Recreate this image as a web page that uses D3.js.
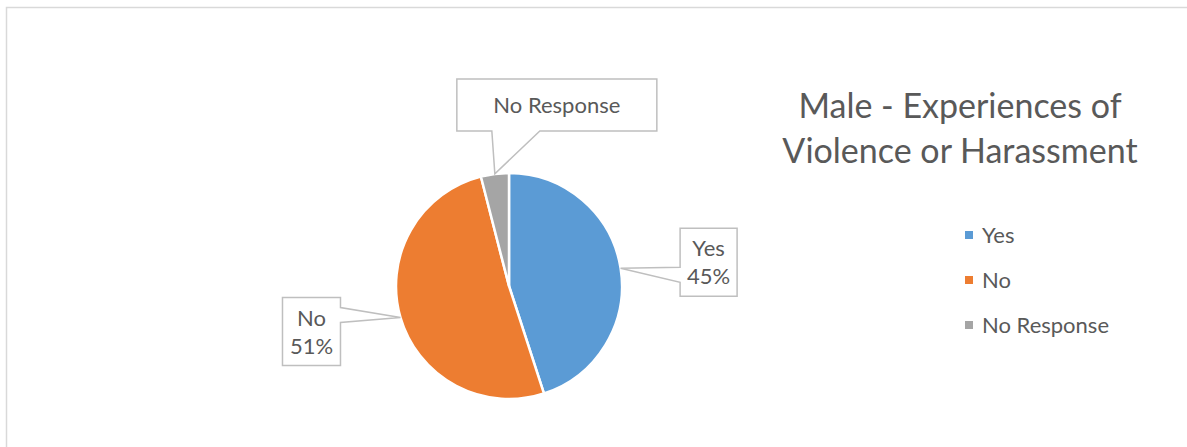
<!DOCTYPE html>
<html>
<head>
<meta charset="utf-8">
<script src="https://cdn.jsdelivr.net/npm/d3@7/dist/d3.min.js"></script>
<style>
  html, body { margin: 0; padding: 0; background: #fff; }
  svg { display: block; }
  text { font-family: Lato, "Open Sans", sans-serif; fill: #595959; }
</style>
</head>
<body>
<svg id="chart" width="1187" height="447"></svg>
<script>
// Survey responses (percent of male respondents)
const categories = ["Yes", "No", "No Response"];
const values = [45, 51, 4];
const colors = ["#5B9BD5", "#ED7D31", "#A5A5A5"];
const labelLines = [["Yes", "45%"], ["No", "51%"], ["No Response"]];
const titleLines = ["Male - Experiences of", "Violence or Harassment"];

const W = 1187, H = 447;
const cx = 509, cy = 286, R = 113;

const svg = d3.select("#chart");

// chart-area frame (runs past the right and bottom edges of the view)
svg.append("rect")
  .attr("x", 6.5).attr("y", 7.5)
  .attr("width", W + 10).attr("height", H + 10)
  .attr("fill", "none").attr("stroke", "#d9d9d9").attr("stroke-width", 1.5);

const data = categories.map((c, i) => ({ cat: c, value: values[i], color: colors[i], lines: labelLines[i] }));

const pie = d3.pie().sort(null).value(d => d.value);
const arcs = pie(data);
const arc = d3.arc().innerRadius(0).outerRadius(R);

const g = svg.append("g").attr("transform", `translate(${cx},${cy})`);
g.selectAll("path.slice")
  .data(arcs)
  .join("path")
  .attr("class", "slice")
  .attr("d", arc)
  .attr("fill", d => d.data.color)
  .attr("stroke", "#fff")
  .attr("stroke-width", 2.5)
  .attr("stroke-linejoin", "round");

// callout boxes: centre offset from the wedge tip, size, and pointer base on one side
const callouts = [
  { dx: 88, dy: -6, w: 57, h: 68, side: "left",   b0: 5,   b1: 20 },
  { dx: -89, dy: 14, w: 58, h: 68, side: "right",  b0: -24, b1: -9 },
  { dx: 62, dy: -69, w: 200, h: 52, side: "bottom", b0: -65, b1: -17 }
];

const labelG = svg.append("g");
arcs.forEach((a, i) => {
  const mid = (a.startAngle + a.endAngle) / 2;
  const tx = cx + R * Math.sin(mid);
  const ty = cy - R * Math.cos(mid);
  const c = callouts[i];
  const bx = tx + c.dx, by = ty + c.dy;
  const x0 = bx - c.w / 2, x1 = bx + c.w / 2, y0 = by - c.h / 2, y1 = by + c.h / 2;
  let p;
  if (c.side === "left") {
    p = `M${x0},${y0}H${x1}V${y1}H${x0}V${by + c.b1}L${tx},${ty}L${x0},${by + c.b0}Z`;
  } else if (c.side === "right") {
    p = `M${x0},${y0}H${x1}V${by + c.b0}L${tx},${ty}L${x1},${by + c.b1}V${y1}H${x0}Z`;
  } else {
    p = `M${x0},${y0}H${x1}V${y1}H${bx + c.b1}L${tx},${ty}L${bx + c.b0},${y1}H${x0}Z`;
  }
  labelG.append("path")
    .attr("d", p)
    .attr("fill", "#fff")
    .attr("stroke", "#bfbfbf")
    .attr("stroke-width", 1.5)
    .attr("stroke-linejoin", "miter");
  const lines = a.data.lines;
  const lh = 28;
  const t = labelG.append("text")
    .attr("text-anchor", "middle")
    .attr("font-size", 22);
  lines.forEach((ln, j) => {
    t.append("tspan")
      .attr("x", bx)
      .attr("y", by + (j - (lines.length - 1) / 2) * lh + 8)
      .text(ln);
  });
});

// title
const title = svg.append("text")
  .attr("text-anchor", "middle")
  .attr("font-size", 34);
titleLines.forEach((ln, j) => {
  title.append("tspan").attr("x", 960).attr("y", 118 + j * 45).text(ln);
});

// legend
const legend = svg.append("g").attr("transform", "translate(965,235)");
const items = legend.selectAll("g.item")
  .data(data)
  .join("g")
  .attr("class", "item")
  .attr("transform", (d, i) => `translate(0,${i * 45})`);
items.append("rect")
  .attr("x", 0).attr("y", -4)
  .attr("width", 8).attr("height", 8)
  .attr("fill", d => d.color);
items.append("text")
  .attr("x", 17).attr("y", 7.5)
  .attr("font-size", 22)
  .text(d => d.cat);
</script>
</body>
</html>
